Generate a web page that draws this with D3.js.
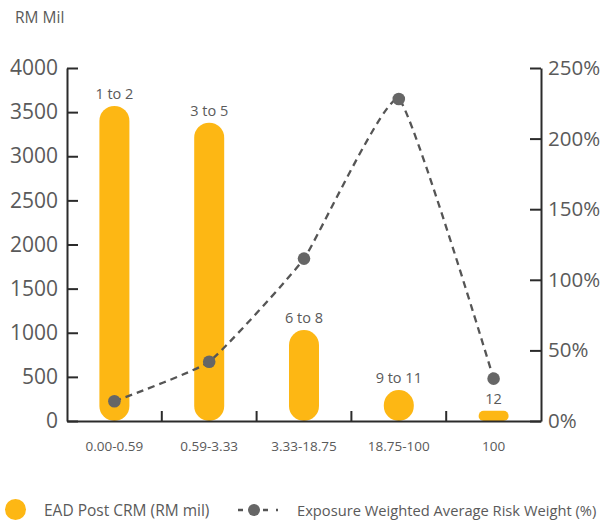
<!DOCTYPE html>
<html>
<head>
<meta charset="utf-8">
<script src="https://cdn.jsdelivr.net/npm/d3@7"></script>
<style>
  html, body { margin: 0; padding: 0; background: #fff; }
  svg { display: block; }
  text { font-family: "Open Sans", "Noto Sans", sans-serif; fill: #5a5a5a; }
</style>
</head>
<body>
<svg id="chart" width="605" height="523"></svg>
<script>
// PD bands on the x axis
const categories = ["0.00-0.59", "0.59-3.33", "3.33-18.75", "18.75-100", "100"];
// Grade ranges written above each bar
const gradeLabels = ["1 to 2", "3 to 5", "6 to 8", "9 to 11", "12"];
// EAD post CRM, RM mil (left axis)
const eadPostCrm = [3570, 3380, 1030, 350, 115];
// Exposure weighted average risk weight, % (right axis)
const avgRiskWeight = [14, 42, 115, 228, 30];
// Axis ticks
const leftTicks = [0, 500, 1000, 1500, 2000, 2500, 3000, 3500, 4000];
const rightTicks = [0, 50, 100, 150, 200, 250];

const BAR = "#FDB714";
const AXIS = "#2b2b2b";
const LINE = "#555555";
const DOT = "#666666";

const svg = d3.select("#chart");
const plotLeft = 67, plotRight = 541, plotTop = 68, plotBottom = 421;

const x = d3.scaleBand().domain(categories).range([plotLeft, plotRight]).padding(0);
const yL = d3.scaleLinear().domain([0, 4000]).range([plotBottom, plotTop]);
const yR = d3.scaleLinear().domain([0, 250]).range([plotBottom, plotTop]);
const cx = c => x(c) + x.bandwidth() / 2;

// Unit caption
svg.append("text").attr("x", 15).attr("y", 23)
  .style("font-size", "15.5px").text("RM Mil");

// Bars: rounded pills standing on the baseline
const barW = 30;
const rows = categories.map((c, i) => ({ c, v: eadPostCrm[i], g: gradeLabels[i], r: avgRiskWeight[i] }));
svg.append("g").selectAll("rect").data(rows).join("rect")
  .attr("x", d => cx(d.c) - barW / 2)
  .attr("y", d => yL(d.v))
  .attr("width", barW)
  .attr("height", d => yL(0) - yL(d.v))
  .attr("rx", d => Math.min(barW / 2, (yL(0) - yL(d.v)) / 2))
  .attr("fill", BAR);

svg.append("g").selectAll("text").data(rows).join("text")
  .attr("x", d => cx(d.c))
  .attr("y", d => yL(d.v) - 7)
  .attr("text-anchor", "middle")
  .style("font-size", "14.5px")
  .text(d => d.g);

// Left axis, ticks pointing inward
const gL = svg.append("g").attr("transform", `translate(${plotLeft},0)`)
  .call(d3.axisLeft(yL).tickValues(leftTicks).tickFormat(d3.format("d"))
    .tickSizeInner(-11).tickSizeOuter(0).tickPadding(9));
// Right axis
const gR = svg.append("g").attr("transform", `translate(${plotRight},0)`)
  .call(d3.axisRight(yR).tickValues(rightTicks).tickFormat(d => d + "%")
    .tickSizeInner(-11).tickSizeOuter(0).tickPadding(7));
// Bottom axis with labels under the band centres
const gB = svg.append("g").attr("transform", `translate(0,${plotBottom})`)
  .call(d3.axisBottom(x).tickSize(0).tickPadding(20));
// Band boundary ticks
gB.selectAll("line.sep").data(categories.slice(1)).join("line")
  .attr("class", "sep")
  .attr("x1", d => x(d)).attr("x2", d => x(d))
  .attr("y1", 0).attr("y2", -10);

[gL, gR, gB].forEach(g => {
  g.selectAll(".domain").attr("stroke", AXIS).attr("stroke-width", 2);
  g.selectAll("line").attr("stroke", AXIS).attr("stroke-width", 2);
  g.selectAll("text").attr("fill", "#5a5a5a").style("font-family", '"Open Sans", sans-serif');
});
gL.selectAll(".tick text").style("font-size", "21px");
gR.selectAll(".tick text").style("font-size", "20.5px");
gB.selectAll(".tick text").style("font-size", "13.5px");

// Risk weight line
const line = d3.line()
  .x(d => cx(d.c))
  .y(d => yR(d.r))
  .curve(d3.curveCardinal.tension(0.6));
svg.append("path").datum(rows)
  .attr("d", line)
  .attr("fill", "none")
  .attr("stroke", LINE)
  .attr("stroke-width", 2.3)
  .attr("stroke-dasharray", "7,5");
svg.append("g").selectAll("circle").data(rows).join("circle")
  .attr("cx", d => cx(d.c))
  .attr("cy", d => yR(d.r))
  .attr("r", 6.3)
  .attr("fill", DOT);

// Legend
const lg = svg.append("g");
lg.append("circle").attr("cx", 15.5).attr("cy", 509.5).attr("r", 10.5).attr("fill", BAR);
lg.append("text").attr("x", 44).attr("y", 516).style("font-size", "15.5px").text("EAD Post CRM (RM mil)");
lg.append("line").attr("x1", 238).attr("x2", 278).attr("y1", 510).attr("y2", 510)
  .attr("stroke", LINE).attr("stroke-width", 2.3).attr("stroke-dasharray", "5,20,5,8,2");
lg.append("circle").attr("cx", 254).attr("cy", 510).attr("r", 6).attr("fill", DOT);
lg.append("text").attr("x", 297).attr("y", 516).style("font-size", "14.7px")
  .text("Exposure Weighted Average Risk Weight (%)");
</script>
</body>
</html>
